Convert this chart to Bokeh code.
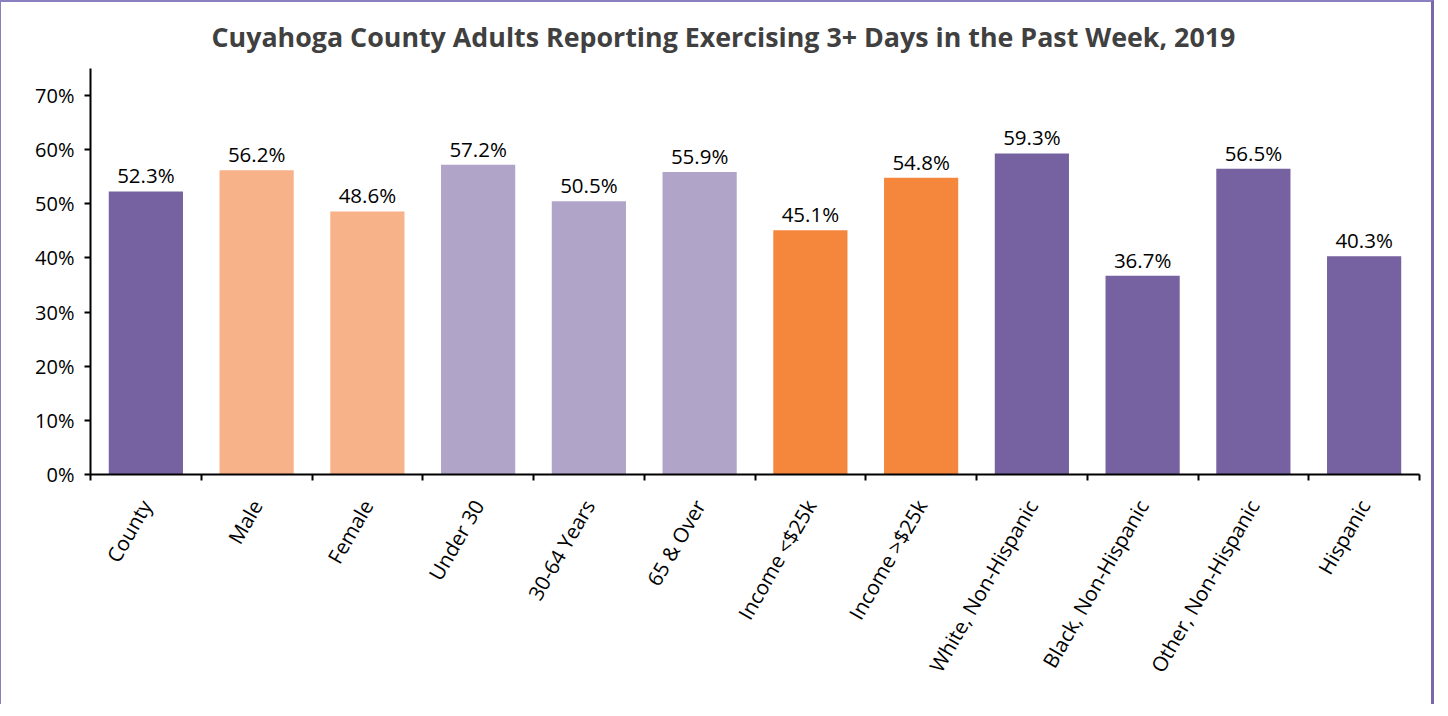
from bokeh.plotting import figure
from bokeh.models import Range1d, FixedTicker, PrintfTickFormatter, ColumnDataSource
from bokeh.core.properties import value
from bokeh.embed import file_html
from bokeh.resources import INLINE
import math

categories = ["County", "Male", "Female", "Under 30", "30-64 Years", "65 & Over",
              "Income <$25k", "Income >$25k", "White, Non-Hispanic",
              "Black, Non-Hispanic", "Other, Non-Hispanic", "Hispanic"]
values = [52.3, 56.2, 48.6, 57.2, 50.5, 55.9, 45.1, 54.8, 59.3, 36.7, 56.5, 40.3]
colors = ["#7662a0", "#f8b28a", "#f8b28a", "#b0a4c8", "#b0a4c8", "#b0a4c8",
          "#f5873c", "#f5873c", "#7662a0", "#7662a0", "#7662a0", "#7662a0"]
y_ticks = [0, 10, 20, 30, 40, 50, 60, 70]

FONT = "Open Sans"
n = len(categories)
xs = [i + 0.5 for i in range(n)]
src = ColumnDataSource(dict(x=xs, v=values, c=colors,
                            lab=[f"{v:.1f}%" for v in values]))

p = figure(width=1434, height=704, output_backend="svg", toolbar_location=None,
           x_range=Range1d(0, n), y_range=Range1d(0, 75),
           min_border_left=89, min_border_right=16, min_border_top=64,
           min_border_bottom=232, tools="")
p.title.text = "Cuyahoga County Adults Reporting Exercising 3+ Days in the Past Week, 2019"
p.title.align = "left"
p.title.offset = 121
p.title.text_font = FONT
p.title.text_font_size = "26.8px"
p.title.text_font_style = "bold"
p.title.text_color = "#404040"
p.title.standoff = 27

p.styles = {"border-left": "1px solid #8c7fc0", "border-top": "2px solid #8c7fc0",
            "border-right": "3px solid #7a66a8"}

p.vbar(x="x", top="v", width=0.67, bottom=0, fill_color="c", line_color=None, source=src)
p.text(x="x", y="v", text="lab", source=src, text_align="center",
       text_baseline="bottom", y_offset=-2, text_font=value(FONT),
       text_font_size="20.5px", text_color="#000000")

p.xgrid.visible = False
p.ygrid.visible = False
p.outline_line_color = None

xa = p.xaxis[0]
xa.ticker = FixedTicker(ticks=xs, minor_ticks=list(range(n + 1)))
xa.major_label_overrides = {x: c for x, c in zip(xs, categories)}
xa.major_label_orientation = math.pi / 3
xa.major_tick_out = 0
xa.major_tick_in = 0
xa.minor_tick_out = 6
xa.minor_tick_in = 0
xa.minor_tick_line_color = "#000000"
xa.minor_tick_line_width = 2
xa.axis_line_color = "#000000"
xa.axis_line_width = 2
xa.major_label_text_font = FONT
xa.major_label_text_font_size = "20.5px"
xa.major_label_text_color = "#000000"
xa.major_label_standoff = 21

ya = p.yaxis[0]
ya.ticker = FixedTicker(ticks=y_ticks, minor_ticks=[])
ya.formatter = PrintfTickFormatter(format="%d%%")
ya.major_tick_out = 6
ya.major_tick_in = 0
ya.major_tick_line_width = 2
ya.major_tick_line_color = "#000000"
ya.axis_line_color = "#000000"
ya.axis_line_width = 2
ya.major_label_text_font = FONT
ya.major_label_text_font_size = "20px"
ya.major_label_text_color = "#000000"
ya.major_label_standoff = 10

open("out.html", "w").write(file_html(p, INLINE))
